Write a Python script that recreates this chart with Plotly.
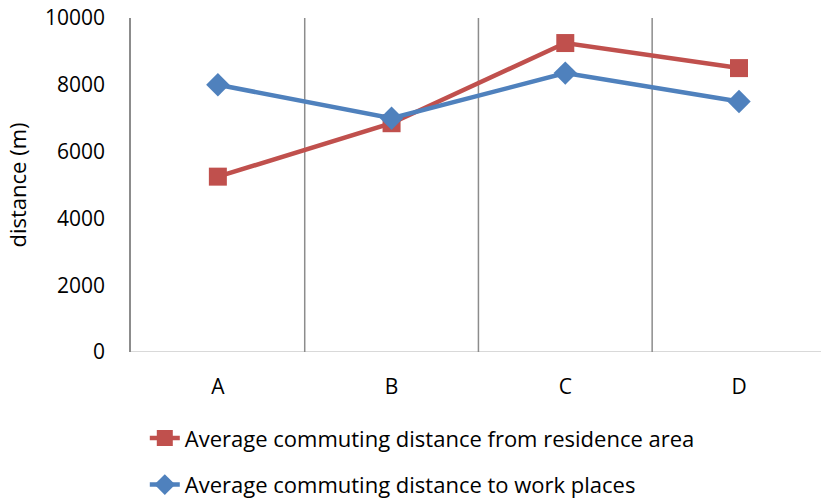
import plotly.graph_objects as go

categories = ["A", "B", "C", "D"]
residence = [5250, 6850, 9250, 8500]
work = [8000, 7000, 8350, 7500]
y_ticks = [0, 2000, 4000, 6000, 8000, 10000]
y_tick_labels = ["0", "2000", "4000", "6000", "8000", "10000"]

RED = "#C0504D"
BLUE = "#4F81BD"
FONT = "Open Sans"

xpos = list(range(len(categories)))

fig = go.Figure()
fig.add_trace(go.Scatter(
    x=xpos, y=residence, mode="lines+markers",
    name="Average commuting distance from residence area",
    legendgroup="res",
    line=dict(color=RED, width=4.5),
    marker=dict(symbol="square", size=18, color=RED),
))
fig.add_trace(go.Scatter(
    x=xpos, y=work, mode="lines+markers",
    name="Average commuting distance to work places",
    legendgroup="work",
    line=dict(color=BLUE, width=4.5),
    marker=dict(symbol="diamond", size=18, color=BLUE),
))

# vertical separators between categories
for b in [0.5, 1.5, 2.5]:
    fig.add_shape(type="line", xref="x", yref="y", x0=b, x1=b, y0=0, y1=10000,
                  line=dict(color="#8c8c8c", width=1.5), layer="below")

fig.update_layout(
    width=821, height=500,
    margin=dict(l=131, r=0, t=18, b=148, autoexpand=False),
    paper_bgcolor="white", plot_bgcolor="white",
    font=dict(family=FONT, size=21, color="#000000"),
    showlegend=True,
    legend=dict(
        orientation="v", x=0.02, xanchor="left", y=-0.195, yanchor="top",
        font=dict(family=FONT, size=22, color="#000000"),
        tracegroupgap=15,
    ),
    xaxis=dict(
        range=[-0.5, 3.472], tickmode="array", tickvals=xpos, ticktext=categories,
        showgrid=False, zeroline=False, showline=False, ticks="",
        ticklabelstandoff=20,
    ),
    yaxis=dict(
        range=[0, 10000], tickmode="array", tickvals=y_ticks, ticktext=y_tick_labels,
        showgrid=False, zeroline=False,
        showline=True, linecolor="#8c8c8c", linewidth=1.5, ticks="",
        ticklabelstandoff=20,
        title=dict(text="distance (m)", font=dict(family=FONT, size=22), standoff=12),
    ),
)

# light baseline along the category axis
fig.add_shape(type="line", xref="paper", yref="y", x0=0, x1=1, y0=0, y1=0,
              line=dict(color="#d9d9d9", width=2), layer="below")

fig.write_html("out.html")
